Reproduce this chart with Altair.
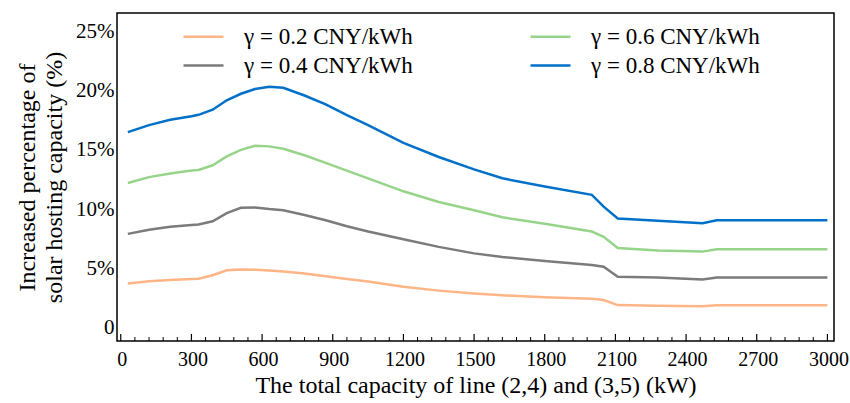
import altair as alt
import pandas as pd

capacity = [30, 120, 210, 300, 330, 390, 450, 510, 570, 630, 690, 780, 870, 960,
            1050, 1200, 1350, 1500, 1620, 1800, 2000, 2050, 2110, 2280, 2470, 2530, 3000]

g02 = [3.7, 3.9, 4.0, 4.08, 4.1, 4.4, 4.82, 4.88, 4.86, 4.8, 4.72, 4.55, 4.32, 4.08,
       3.88, 3.42, 3.1, 2.85, 2.7, 2.55, 2.42, 2.3, 1.88, 1.83, 1.77, 1.86, 1.86]
g04 = [7.9, 8.25, 8.5, 8.65, 8.7, 8.97, 9.65, 10.1, 10.13, 10.0, 9.9, 9.5, 9.05, 8.55,
       8.1, 7.45, 6.8, 6.25, 5.95, 5.6, 5.26, 5.12, 4.28, 4.2, 4.05, 4.2, 4.2]
g06 = [12.2, 12.7, 13.0, 13.25, 13.3, 13.7, 14.45, 15.0, 15.35, 15.3, 15.1, 14.55, 13.9, 13.25,
       12.6, 11.5, 10.6, 9.9, 9.3, 8.75, 8.1, 7.65, 6.7, 6.5, 6.4, 6.6, 6.6]
g08 = [16.5, 17.1, 17.55, 17.85, 17.97, 18.4, 19.2, 19.75, 20.15, 20.35, 20.25, 19.6, 18.85, 17.95,
       17.1, 15.6, 14.4, 13.35, 12.6, 11.9, 11.2, 10.2, 9.2, 9.0, 8.8, 9.05, 9.05]

series_names = ["γ = 0.2 CNY/kWh", "γ = 0.4 CNY/kWh", "γ = 0.6 CNY/kWh", "γ = 0.8 CNY/kWh"]
series_values = [g02, g04, g06, g08]
series_colors = ["#FFB585", "#7B7B7B", "#96D48A", "#0070C8"]

x_tick_labels = list(range(0, 3001, 300))
y_tick_labels = [0, 5, 10, 15, 20, 25]
minor_ticks = [v for v in range(0, 3001, 60) if v % 300 != 0]

rows = []
for name, vals in zip(series_names, series_values):
    for c, v in zip(capacity, vals):
        rows.append({"capacity": c, "value": v, "series": name})
df = pd.DataFrame(rows)

W, H = 717, 328
FONT = "Liberation Serif"

xscale = alt.Scale(domain=[-16, 3028], nice=False, zero=False)
yscale = alt.Scale(domain=[-1.16, 26.58], nice=False, zero=False)

lines = alt.Chart(df).mark_line(strokeWidth=2.5, clip=True).encode(
    x=alt.X("capacity:Q", scale=xscale,
            axis=alt.Axis(values=x_tick_labels, format="d", ticks=False, domain=False, grid=False,
                          labelPadding=8, labelOffset=1, labelFlush=False, labelFontSize=20,
                          labelFont=FONT, labelColor="black",
                          title="The total capacity of line (2,4) and (3,5) (kW)",
                          titleFontSize=24, titleFont=FONT, titleFontWeight="normal",
                          titleColor="black", titlePadding=4)),
    y=alt.Y("value:Q", scale=yscale,
            axis=alt.Axis(values=y_tick_labels, ticks=False, domain=False, grid=False,
                          labelExpr="datum.value == 0 ? '0' : datum.value + '%'",
                          labelPadding=3, labelFontSize=21, labelFont=FONT, labelColor="black",
                          title=["Increased percentage of", "solar hosting capacity (%)"],
                          titleFontSize=24, titleLineHeight=27, titleFont=FONT,
                          titleFontWeight="normal", titleColor="black", titlePadding=9)),
    color=alt.Color("series:N",
                    scale=alt.Scale(domain=series_names, range=series_colors),
                    legend=alt.Legend(title=None, orient="none", legendX=75, legendY=12,
                                      columns=2, columnPadding=112, rowPadding=5,
                                      symbolType="M-2,0H2", symbolSize=400,
                                      symbolStrokeWidth=2.5, labelFont=FONT,
                                      labelFontSize=23, labelColor="black", labelLimit=0,
                                      labelOffset=29, padding=0)),
)

major_df = pd.DataFrame({"capacity": x_tick_labels})
minor_df = pd.DataFrame({"capacity": minor_ticks})

major = alt.Chart(major_df).mark_rule(color="black", strokeWidth=1.2).encode(
    x=alt.X("capacity:Q", scale=xscale),
    y=alt.value(H), y2=alt.value(H - 7))
minor = alt.Chart(minor_df).mark_rule(color="black", strokeWidth=1).encode(
    x=alt.X("capacity:Q", scale=xscale),
    y=alt.value(H), y2=alt.value(H - 4))

chart = alt.layer(major, minor, lines).properties(
    width=W, height=H,
    background="white",
    autosize=alt.AutoSizeParams(type="none"),
    padding={"left": 117, "top": 13, "right": 16, "bottom": 62},
).configure_view(stroke="black", strokeWidth=1.5)

chart.save("out.html", embed_options={"renderer": "svg", "actions": False})
